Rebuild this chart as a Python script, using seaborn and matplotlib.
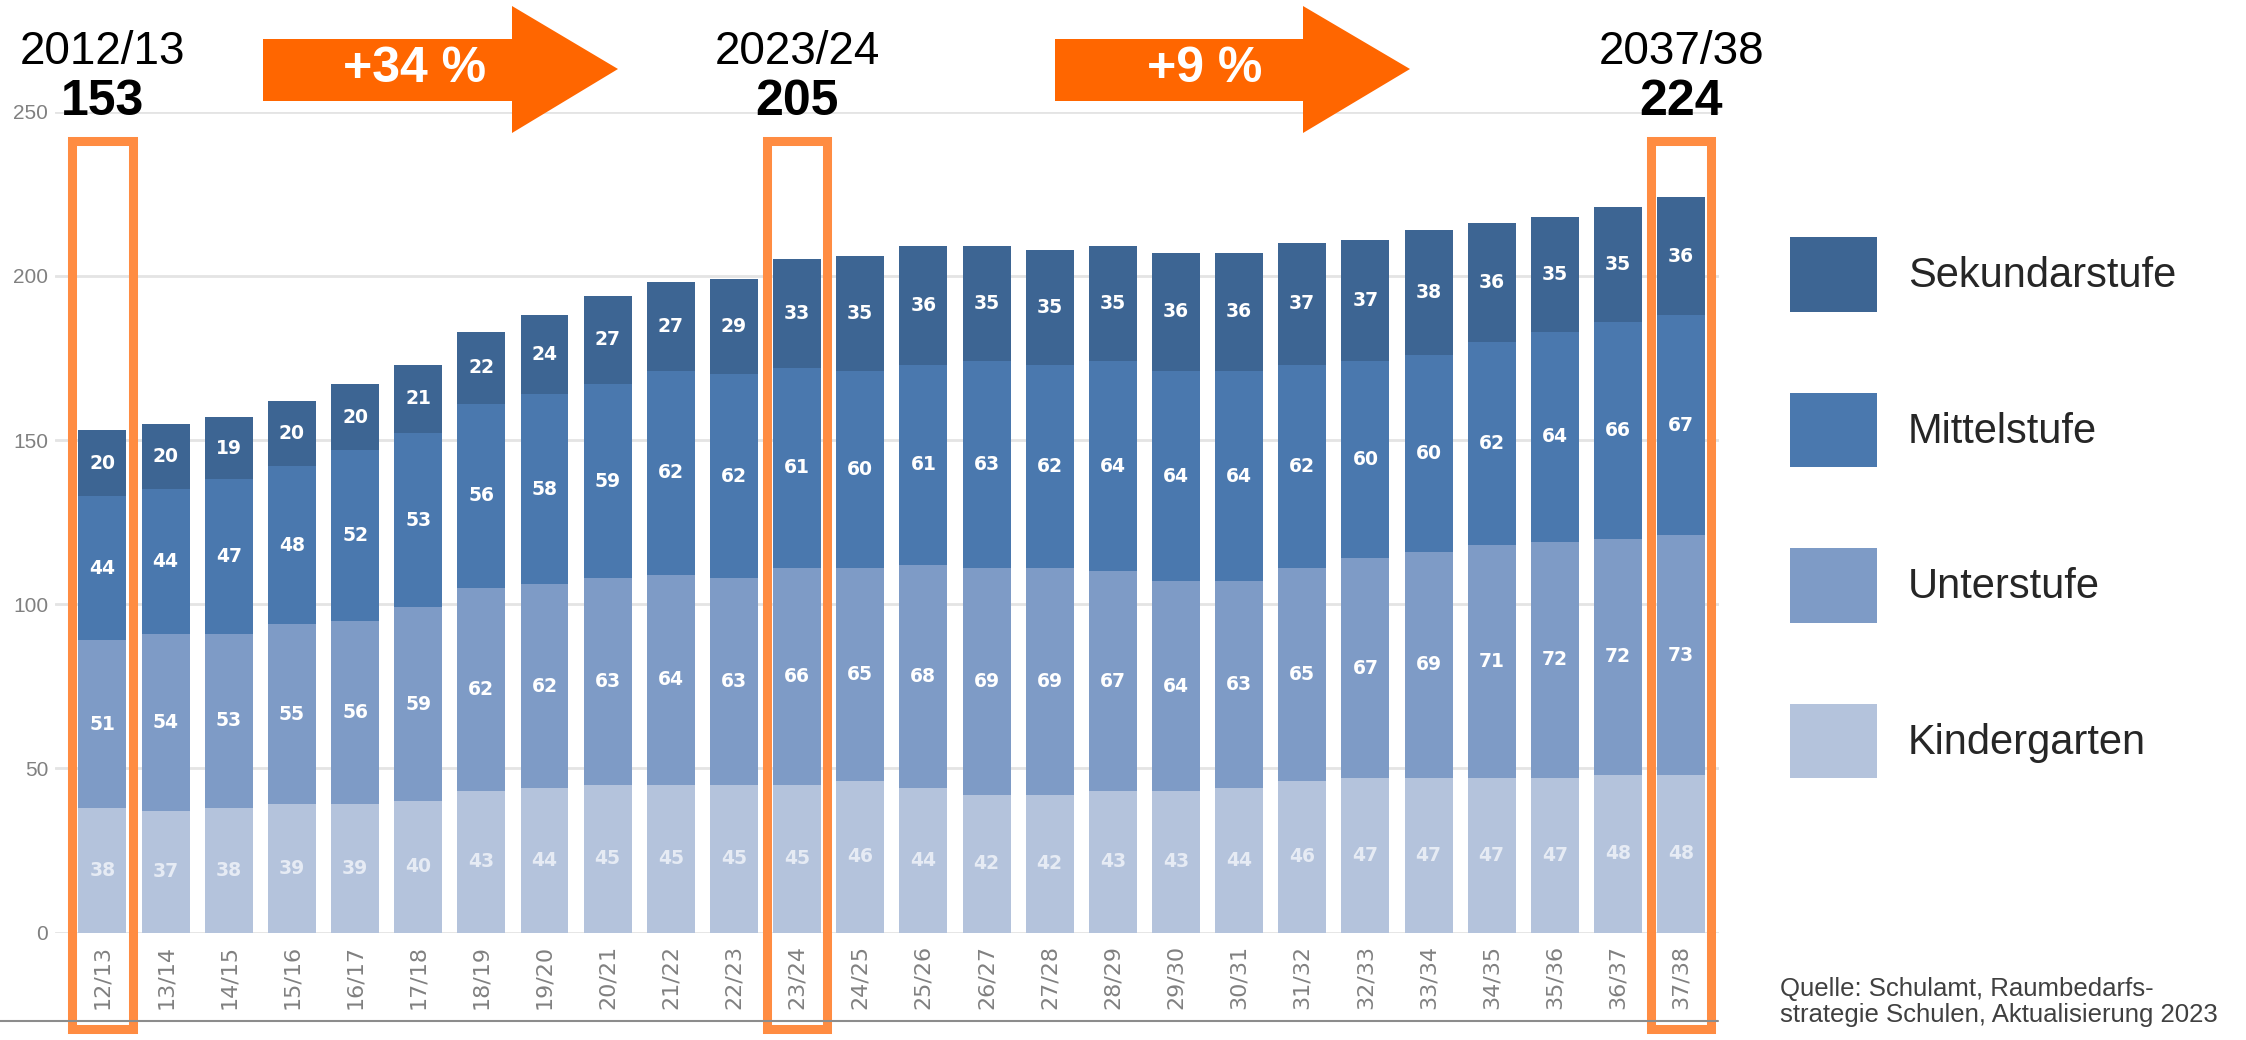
import numpy as np
import matplotlib.pyplot as plt
import seaborn as sns
from matplotlib.patches import Rectangle, Polygon, Patch
from matplotlib.lines import Line2D

# school years (x axis)
years = ["12/13", "13/14", "14/15", "15/16", "16/17", "17/18", "18/19", "19/20",
         "20/21", "21/22", "22/23", "23/24", "24/25", "25/26", "26/27", "27/28",
         "28/29", "29/30", "30/31", "31/32", "32/33", "33/34", "34/35", "35/36",
         "36/37", "37/38"]

kindergarten = [38, 37, 38, 39, 39, 40, 43, 44, 45, 45, 45, 45, 46, 44, 42, 42,
                43, 43, 44, 46, 47, 47, 47, 47, 48, 48]
unterstufe = [51, 54, 53, 55, 56, 59, 62, 62, 63, 64, 63, 66, 65, 68, 69, 69,
              67, 64, 63, 65, 67, 69, 71, 72, 72, 73]
mittelstufe = [44, 44, 47, 48, 52, 53, 56, 58, 59, 62, 62, 61, 60, 61, 63, 62,
               64, 64, 64, 62, 60, 60, 62, 64, 66, 67]
sekundarstufe = [20, 20, 19, 20, 20, 21, 22, 24, 27, 27, 29, 33, 35, 36, 35, 35,
                 35, 36, 36, 37, 37, 38, 36, 35, 35, 36]

levels = ["Kindergarten", "Unterstufe", "Mittelstufe", "Sekundarstufe"]
colors = {"Kindergarten": "#B4C3DC", "Unterstufe": "#7E9BC6",
          "Mittelstufe": "#4A78AE", "Sekundarstufe": "#3D6593"}

highlight = ["12/13", "23/24", "37/38"]
highlight_titles = ["2012/13", "2023/24", "2037/38"]

source = "Quelle: Schulamt, Raumbedarfs-\nstrategie Schulen, Aktualisierung 2023"

sns.set_theme(style="white")
plt.rcParams['font.family'] = ['Liberation Sans', 'DejaVu Sans']

W, H = 2246, 1040
fig = plt.figure(figsize=(W / 100, H / 100), dpi=100)
ax = fig.add_axes([55 / W, 1 - 932.5 / H, (1719 - 55) / W, (932.5 - 111.7) / H])

data = np.array([kindergarten, unterstufe, mittelstufe, sekundarstufe])
cum = data.cumsum(axis=0)
bottoms = cum - data

# stacked bars: draw cumulative totals from the top layer down
for i in range(len(levels) - 1, -1, -1):
    sns.barplot(x=years, y=cum[i], color=colors[levels[i]], saturation=1,
                width=0.76, errorbar=None, linewidth=0, ax=ax)

for i, lvl in enumerate(levels):
    tc = "#E6EBF4" if lvl == "Kindergarten" else "white"
    for j, v in enumerate(data[i]):
        ax.text(j, bottoms[i, j] + v / 2, str(v), ha="center", va="center",
                color=tc, fontsize=13.5, fontweight="bold", family="DejaVu Sans")

ax.set_xlim(-0.752, 25.6)
ax.set_ylim(0, 250)
ax.set_yticks(range(0, 251, 50))
ax.yaxis.grid(True, color="#E4E4E4", lw=2)
ax.set_axisbelow(True)
for s in ax.spines.values():
    s.set_visible(False)
ax.set_xlabel("")
ax.set_ylabel("")
ax.tick_params(axis="y", length=0, labelsize=15, labelcolor="#808080", pad=5)
ax.tick_params(axis="x", length=0, labelsize=16, labelcolor="#808080", pad=9)
for lab in ax.get_xticklabels():
    lab.set_rotation(90)
    lab.set_family("DejaVu Sans")

# orange highlight boxes and labels above
totals = cum[-1]
for name, title in zip(highlight, highlight_titles):
    j = years.index(name)
    ax.add_patch(Rectangle((j - 0.48, -29.4), 0.96, 270.4, fill=False,
                           edgecolor="#FF8C42", lw=6.5, clip_on=False, zorder=5))
    ax.text(j, 268.3, title, ha="center", va="center", fontsize=33,
            color="black", clip_on=False)
    ax.text(j, 252.9, str(totals[j]), ha="center", va="center", fontsize=36,
            fontweight="bold", color="black", clip_on=False)


def arrow(x0, x1, tip, label, tx):
    pts = [(x0, 39), (x1, 39), (x1, 6), (tip, 69), (x1, 133), (x1, 101), (x0, 101)]
    pts = [(x / W, 1 - y / H) for x, y in pts]
    fig.add_artist(Polygon(pts, closed=True, facecolor="#FF6600",
                           edgecolor="none", transform=fig.transFigure))
    fig.text(tx / W, 1 - 69 / H, label, ha="center", va="center", fontsize=36,
             fontweight="bold", color="white")


i0, i1, i2 = [years.index(n) for n in highlight]
g1 = round((totals[i1] / totals[i0] - 1) * 100)
g2 = round((totals[i2] / totals[i1] - 1) * 100)
arrow(263, 512, 618, f"+{g1} %", 415)
arrow(1055, 1303, 1410, f"+{g2} %", 1205)

fig.add_artist(Line2D([0, 1718 / W], [1 - 1021 / H] * 2, color="#8C8C8C",
                      lw=1.5, transform=fig.transFigure))

handles = [Patch(facecolor=colors[l], edgecolor="none", label=l) for l in levels[::-1]]
fig.legend(handles=handles, loc="upper left", bbox_to_anchor=(1790 / W, 1 - 237 / H),
           frameon=False, fontsize=30, handlelength=2.09, handleheight=2.38,
           labelspacing=1.94, handletextpad=0.74, borderpad=0, borderaxespad=0)

fig.text(1780 / W, 1 - 1002 / H, source, ha="left", va="center", fontsize=18.5,
         color="#404040", linespacing=1.15)

fig.savefig("out.png", dpi=100)
